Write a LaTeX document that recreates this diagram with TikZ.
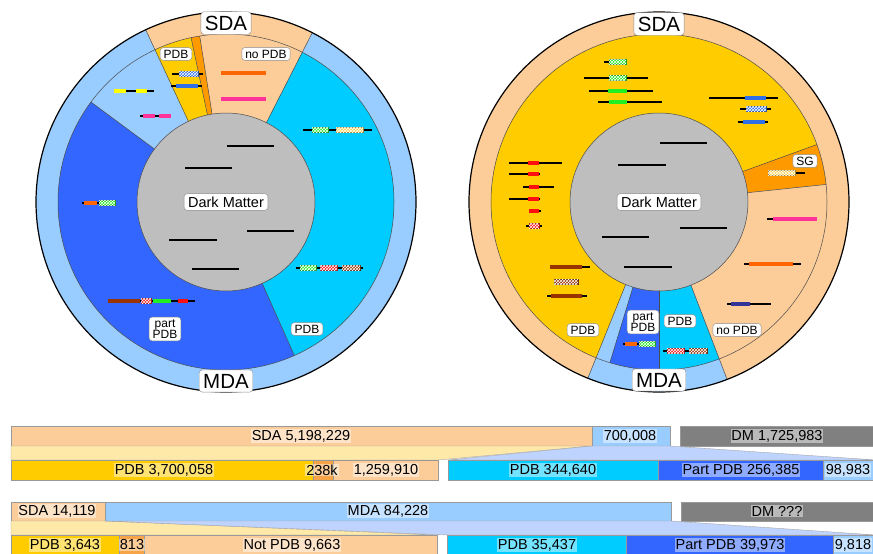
\documentclass[tikz,border=0pt]{standalone}
\usepackage{fontspec}
\setmainfont{Liberation Sans}
\usetikzlibrary{patterns}
\definecolor{sdapeach}{HTML}{FCCC99}
\definecolor{mdablue}{HTML}{99CCFF}
\definecolor{pdbyellow}{HTML}{FFCC00}
\definecolor{sgorange}{HTML}{FF9900}
\definecolor{pdbcyan}{HTML}{00CCFF}
\definecolor{partblue}{HTML}{3366FF}
\definecolor{dmgray}{HTML}{BEBEBE}
\definecolor{dmdark}{HTML}{808080}
\definecolor{linkyellow}{HTML}{FFE9A8}
\definecolor{linkblue}{HTML}{BFD3FF}
\definecolor{barorange}{HTML}{F7A448}
\definecolor{domgreen}{HTML}{22EE22}
\definecolor{domred}{HTML}{FF1010}
\definecolor{dombrown}{HTML}{993300}
\definecolor{domblue}{HTML}{2F6FE8}
\definecolor{domorange}{HTML}{FF6600}
\definecolor{dompink}{HTML}{FF3399}
\definecolor{domyellow}{HTML}{FFFF00}
\definecolor{domgold}{HTML}{FFD24D}
\definecolor{domindigo}{HTML}{333399}
\begin{document}
\begin{tikzpicture}%
	[x=1pt, y=-1pt,
	ringedge/.style={draw=black!70, line width=0.5pt},
	rimedge/.style={draw=black, line width=1.2pt},
	chain/.style={line width=1.5pt, color=black},
	motif/.style={line width=3.5pt},
	hatchmotif/.style={draw=#1!60!black, line width=0.3pt, fill=#1, postaction={pattern=crosshatch, pattern color=white}},
	tag/.style={draw=black!45, fill=white, rounded corners=3pt, inner xsep=3.5pt, inner ysep=2.2pt, align=center, font=\fontsize{12}{11.5}\selectfont},
	bigtag/.style={tag, inner sep=4pt, font=\fontsize{20.5}{22}\selectfont},
	midtag/.style={tag, inner xsep=4pt, inner ysep=3pt, font=\fontsize{14.5}{16}\selectfont},
	barbox/.style={draw=black!40, line width=0.5pt},
	barlink/.style={draw=black!35, line width=0.4pt},
	bartext/.style={fill=white, fill opacity=0.45, text opacity=1, inner sep=0.8pt, font=\fontsize{14.5}{16}\selectfont}]
	%
	\useasboundingbox (0,0) rectangle (873,554);
	%%
	%% Drawing the left wheel
	%%
	\begin{scope}[shift={(226,202)}, yscale=-1]
		\fill[mdablue] (0,0) circle[radius=190];
		\fill[sdapeach] (0,0) -- (63:190) arc[start angle=63, end angle=115, radius=190] -- cycle;
		\fill[pdbcyan] (0,0) -- (-66:168) arc[start angle=-66, end angle=63, radius=168] -- cycle;
		\fill[sgorange] (0,0) -- (99:168) arc[start angle=99, end angle=102, radius=168] -- cycle;
		\fill[pdbyellow] (0,0) -- (102:168) arc[start angle=102, end angle=115, radius=168] -- cycle;
		\fill[partblue] (0,0) -- (143.5:168) arc[start angle=143.5, end angle=294, radius=168] -- cycle;
		\fill[dmgray] (0,0) circle[radius=89];
		\draw[ringedge] (0,0) circle[radius=168];
		\draw[ringedge] (63:89) -- (63:190);
		\draw[ringedge] (115:89) -- (115:190);
		\draw[ringedge] (99:89) -- (99:168);
		\draw[ringedge] (102:89) -- (102:168);
		\draw[ringedge] (143.5:89) -- (143.5:168);
		\draw[ringedge] (-66:89) -- (-66:168);
		\draw[ringedge] (0,0) circle[radius=89];
		\draw[rimedge] (0,0) circle[radius=190];
	\end{scope}
	%%
	%% Chains in the left wheel
	%%
	\draw[chain] (227,146) -- (274,146);
	\draw[chain] (185,168) -- (232,168);
	\draw[chain] (247,231) -- (294,231);
	\draw[chain] (169,240) -- (217,240);
	\draw[chain] (192,269) -- (239,269);
	% PDB
	\draw[chain] (172,74) -- (203,74);
	\path[hatchmotif=domblue] (179,71.5) rectangle (198,76.5);
	\draw[chain] (171,86) -- (202,86);
	\draw[motif, domblue] (176,86) -- (198,86);
	% no PDB
	\draw[motif, domorange] (221,73) -- (266,73);
	\draw[motif, dompink] (221,99) -- (266,99);
	% MDA without structure
	\draw[chain] (114,91) -- (154,91);
	\draw[motif, domyellow] (114,91) -- (126,91);
	\draw[motif, domyellow] (136,91) -- (147,91);
	\draw[chain] (140,116) -- (171,116);
	\draw[motif, dompink] (143,116) -- (155,116);
	\draw[motif, dompink] (159,116) -- (171,116);
	% part PDB
	\draw[chain] (82,203) -- (115,203);
	\draw[motif, domorange] (84,203) -- (97,203);
	\path[hatchmotif=domgreen] (99,200.5) rectangle (115,205.5);
	\draw[chain] (108,301) -- (195,301);
	\draw[motif, dombrown] (108,301) -- (140,301);
	\path[hatchmotif=domred] (141,298.5) rectangle (151,303.5);
	\draw[motif, domgreen] (153,301) -- (171,301);
	\draw[motif, domred] (178,301) -- (188,301);
	% PDB
	\draw[chain] (303,130) -- (372,130);
	\path[hatchmotif=domgreen] (312,127.5) rectangle (328,132.5);
	\path[hatchmotif=domgold] (336,127.5) rectangle (363,132.5);
	\draw[chain] (296,268) -- (363,268);
	\path[hatchmotif=domgreen] (300,265.5) rectangle (316,270.5);
	\path[hatchmotif=domred] (320,265.5) rectangle (337,270.5);
	\path[hatchmotif=dombrown] (342,265.5) rectangle (360,270.5);
	%%
	%% Labels of the left wheel
	%%
	\node[bigtag] (lsda) at (226,23) {SDA};
	\node[bigtag] (lmda) at (226,381) {MDA};
	\node[midtag] (ldark) at (226,202) {Dark Matter};
	\node[tag] (lpdbsda) at (176,54) {PDB};
	\node[tag] (lnopdb) at (266,54) {no PDB};
	\node[tag] (lpartpdb) at (165,329) {part\\PDB};
	\node[tag] (lpdbmda) at (307,329) {PDB};
	%%
	%% Drawing the right wheel
	%%
	\begin{scope}[shift={(659,202)}, yscale=-1]
		\fill[sdapeach] (0,0) circle[radius=190];
		\fill[mdablue] (0,0) -- (-112:190) arc[start angle=-112, end angle=-69, radius=190] -- cycle;
		\fill[pdbyellow] (0,0) -- (20:168) arc[start angle=20, end angle=248, radius=168] -- cycle;
		\fill[sgorange] (0,0) -- (6:168) arc[start angle=6, end angle=20, radius=168] -- cycle;
		\fill[sdapeach] (0,0) -- (-69:168) arc[start angle=-69, end angle=6, radius=168] -- cycle;
		\fill[pdbcyan] (0,0) -- (-90:168) arc[start angle=-90, end angle=-69, radius=168] -- cycle;
		\fill[partblue] (0,0) -- (-107:168) arc[start angle=-107, end angle=-90, radius=168] -- cycle;
		\fill[dmgray] (0,0) circle[radius=89];
		\draw[ringedge] (0,0) circle[radius=168];
		\draw[ringedge] (-112:89) -- (-112:190);
		\draw[ringedge] (-69:89) -- (-69:190);
		\draw[ringedge] (-107:89) -- (-107:168);
		\draw[ringedge] (-90:89) -- (-90:168);
		\draw[ringedge] (6:89) -- (6:168);
		\draw[ringedge] (20:89) -- (20:168);
		\draw[ringedge] (0,0) circle[radius=89];
		\draw[rimedge] (0,0) circle[radius=190];
	\end{scope}
	%%
	%% Chains in the right wheel
	%%
	\draw[chain] (660,143) -- (707,143);
	\draw[chain] (618,165) -- (666,165);
	\draw[chain] (680,228) -- (727,228);
	\draw[chain] (602,237) -- (649,237);
	\draw[chain] (624,267) -- (672,267);
	% PDB, green family
	\draw[chain] (604,62) -- (626,62);
	\path[hatchmotif=domgreen] (609,59.5) rectangle (626,64.5);
	\draw[chain] (584,78) -- (648,78);
	\path[hatchmotif=domgreen] (609,75.5) rectangle (626,80.5);
	\draw[chain] (589,91) -- (653,91);
	\draw[motif, domgreen] (608,91) -- (627,91);
	\draw[chain] (598,102) -- (662,102);
	\draw[motif, domgreen] (609,102) -- (627,102);
	% PDB, blue family
	\draw[chain] (709,98) -- (778,98);
	\draw[motif, domblue] (745,98) -- (766,98);
	\draw[chain] (740,109) -- (771,109);
	\path[hatchmotif=domblue] (746,106.5) rectangle (766,111.5);
	\draw[chain] (738,122) -- (768,122);
	\draw[motif, domblue] (743,122) -- (765,122);
	% PDB, red family
	\draw[chain] (509,163) -- (562,163);
	\draw[motif, domred] (528,163) -- (539,163);
	\draw[chain] (509,174) -- (540,174);
	\draw[motif, domred] (528,174) -- (539,174);
	\draw[chain] (523,187) -- (554,187);
	\draw[motif, domred] (529,187) -- (539,187);
	\draw[chain] (509,199) -- (540,199);
	\draw[motif, domred] (528,199) -- (539,199);
	\draw[chain] (529,211) -- (541,211);
	\draw[motif, domred] (529,211) -- (539,211);
	\draw[chain] (526,226) -- (542,226);
	\path[hatchmotif=domred] (529,223.5) rectangle (539,228.5);
	% PDB, brown family
	\draw[chain] (550,267) -- (590,267);
	\draw[motif, dombrown] (550,267) -- (582,267);
	\path[hatchmotif=dombrown] (554,279.5) rectangle (578,284.5);
	\draw[chain] (547,296) -- (587,296);
	\draw[motif, dombrown] (551,296) -- (582,296);
	% SG
	\draw[chain] (768,173) -- (805,173);
	\path[hatchmotif=domgold] (768,170.5) rectangle (795,175.5);
	% no PDB
	\draw[chain] (767,219) -- (817,219);
	\draw[motif, dompink] (773,219) -- (817,219);
	\draw[chain] (744,264) -- (801,264);
	\draw[motif, domorange] (749,264) -- (793,264);
	\draw[chain] (727,304) -- (771,304);
	\draw[motif, domindigo] (731,304) -- (750,304);
	% part PDB and PDB
	\draw[chain] (623,344) -- (655,344);
	\draw[motif, domorange] (625,344) -- (637,344);
	\path[hatchmotif=domgreen] (639,341.5) rectangle (655,346.5);
	\draw[chain] (663,351) -- (708,351);
	\path[hatchmotif=domred] (667,348.5) rectangle (684,353.5);
	\path[hatchmotif=dombrown] (689,348.5) rectangle (707,353.5);
	%%
	%% Labels of the right wheel
	%%
	\node[bigtag] (rsda) at (659,24) {SDA};
	\node[bigtag] (rmda) at (659,380) {MDA};
	\node[midtag] (rdark) at (659,202) {Dark Matter};
	\node[tag] (rsg) at (805,161) {SG};
	\node[tag] (rpdbsda) at (583,330) {PDB};
	\node[tag] (rpartpdb) at (643,322) {part\\PDB};
	\node[tag] (rpdbmda) at (680,321) {PDB};
	\node[tag] (rnopdb) at (737,330) {no PDB};
	%%
	%% Count bars, first pair of rows
	%%
	\draw[barbox, fill=sdapeach] (11,426) rectangle (592,446);
	\draw[barbox, fill=mdablue] (592,426) rectangle (670,446);
	\draw[barbox, fill=dmdark] (680,426) rectangle (876,446);
	\draw[barlink, fill=linkyellow] (11,446) -- (592,446) -- (438,460) -- (11,460) -- cycle;
	\draw[barlink, fill=linkblue] (592,446) -- (670,446) -- (876,460) -- (448,460) -- cycle;
	\draw[barbox, fill=pdbyellow] (11,460) rectangle (313,480);
	\draw[barbox, fill=barorange] (313,460) rectangle (333,480);
	\draw[barbox, fill=sdapeach] (333,460) rectangle (438,480);
	\draw[barbox, fill=pdbcyan] (448,460) rectangle (658,480);
	\draw[barbox, fill=partblue] (658,460) rectangle (823,480);
	\draw[barbox, fill=mdablue] (823,460) rectangle (876,480);
	\node[bartext] (sdaall) at (301,436) {SDA 5,198,229};
	\node[bartext] (mdaall) at (630,436) {700,008};
	\node[bartext] (dmall) at (777,436) {DM 1,725,983};
	\node[bartext] (pdbsda) at (164,470) {PDB 3,700,058};
	\node[bartext] (sgsda) at (322,470) {238k};
	\node[bartext] (nopdbsda) at (386,470) {1,259,910};
	\node[bartext] (pdbmda) at (553,470) {PDB 344,640};
	\node[bartext] (partmda) at (741,470) {Part PDB 256,385};
	\node[bartext] (restmda) at (848,470) {98,983};
	%%
	%% Count bars, second pair of rows
	%%
	\draw[barbox, fill=sdapeach] (11,502) rectangle (105,521);
	\draw[barbox, fill=mdablue] (105,502) rectangle (671,521);
	\draw[barbox, fill=dmdark] (681,502) rectangle (876,521);
	\draw[barlink, fill=linkyellow] (11,521) -- (105,521) -- (438,535) -- (11,535) -- cycle;
	\draw[barlink, fill=linkblue] (105,521) -- (671,521) -- (876,535) -- (448,535) -- cycle;
	\draw[barbox, fill=pdbyellow] (11,535) rectangle (119,558);
	\draw[barbox, fill=barorange] (119,535) rectangle (144,558);
	\draw[barbox, fill=sdapeach] (144,535) rectangle (437,558);
	\draw[barbox, fill=pdbcyan] (447,535) rectangle (626,558);
	\draw[barbox, fill=partblue] (626,535) rectangle (833,558);
	\draw[barbox, fill=mdablue] (833,535) rectangle (876,558);
	\node[bartext] (sdafam) at (57,511) {SDA 14,119};
	\node[bartext] (mdafam) at (388,511) {MDA 84,228};
	\node[bartext] (dmfam) at (777,511) {DM ???};
	\node[bartext] (pdbsdafam) at (65,545) {PDB 3,643};
	\node[bartext] (sgsdafam) at (132,545) {813};
	\node[bartext] (nopdbsdafam) at (292,545) {Not PDB 9,663};
	\node[bartext] (pdbmdafam) at (537,545) {PDB 35,437};
	\node[bartext] (partmdafam) at (730,545) {Part PDB 39,973};
	\node[bartext] (restmdafam) at (853,545) {9,818};
\end{tikzpicture}
\end{document}
